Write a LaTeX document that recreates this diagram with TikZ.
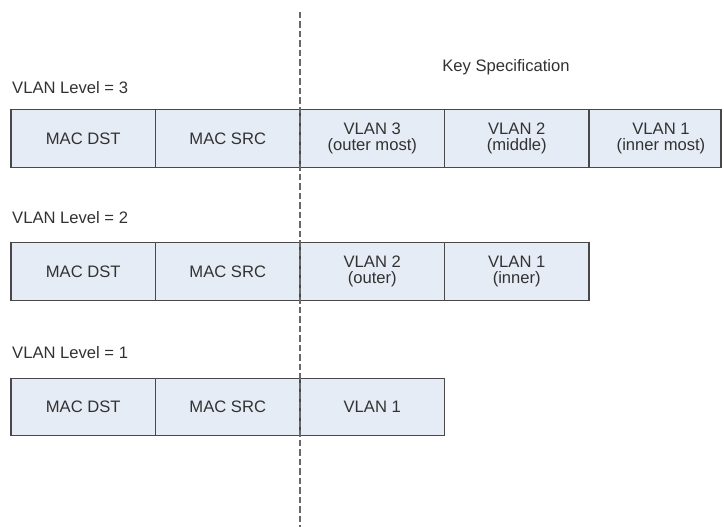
\documentclass[tikz,border=0pt]{standalone}
\usepackage{fontspec}
\setmainfont{Liberation Sans}
\usetikzlibrary{positioning}
\definecolor{fondocampo}{RGB}{230,236,246}
\definecolor{bordecampo}{RGB}{72,72,72}
\definecolor{textogris}{RGB}{50,50,50}
\definecolor{grisguion}{RGB}{105,105,105}
\tikzset{
  campo/.style={
    draw=bordecampo,
    line width=1.3pt,
    fill=fondocampo,
    align=center,
    minimum width=144.5pt,
    minimum height=57.5pt,
    inner sep=0pt,
    outer sep=0pt,
    text=textogris,
    font=\fontsize{16.6}{15.8}\selectfont
  },
  texto/.style={
    align=center,
    inner sep=0pt,
    text=textogris,
    font=\fontsize{16.6}{15.8}\selectfont
  },
  nivel/.style={
    anchor=west,
    inner sep=0pt,
    text=textogris,
    font=\fontsize{16.6}{15.8}\selectfont
  },
  corte/.style={
    grisguion,
    line width=1.6pt,
    dash pattern=on 6.5pt off 3pt
  }
}

\begin{document}
\begin{tikzpicture}[x=1pt,y=-1pt,node distance=0pt]
\useasboundingbox (0,0) rectangle (724,527);
\node[texto,anchor=base] (clave) at (506,72) {Key Specification};
% nivel 3
\node[nivel] (n3) at (12,88) {VLAN Level = 3};
\node[campo] (a3) at (83.25,138.5) {MAC DST};
\node[campo,right=of a3] (b3) {MAC SRC};
\node[campo,right=of b3] (c3) {VLAN 3\\(outer most)};
\node[campo,right=of c3] (d3) {VLAN 2\\(middle)};
\node[campo,right=of d3,minimum width=132pt] (e3) {};
\node[texto] (e3t) at ([xshift=6pt]e3.center) {VLAN 1\\(inner most)};
% nivel 2
\node[nivel] (n2) at (12,218) {VLAN Level = 2};
\node[campo] (a2) at (83.25,271.5) {MAC DST};
\node[campo,right=of a2] (b2) {MAC SRC};
\node[campo,right=of b2] (c2) {VLAN 2\\(outer)};
\node[campo,right=of c2] (d2) {VLAN 1\\(inner)};
% nivel 1
\node[nivel] (n1) at (12,353) {VLAN Level = 1};
\node[campo] (a1) at (83.25,407) {MAC DST};
\node[campo,right=of a1] (b1) {MAC SRC};
\node[campo,right=of b1] (c1) {VLAN 1};
% linea de corte
\coordinate (arriba) at (300,12);
\coordinate (abajo) at (300,527);
\draw[corte] (arriba) -- (abajo);
\end{tikzpicture}
\end{document}
